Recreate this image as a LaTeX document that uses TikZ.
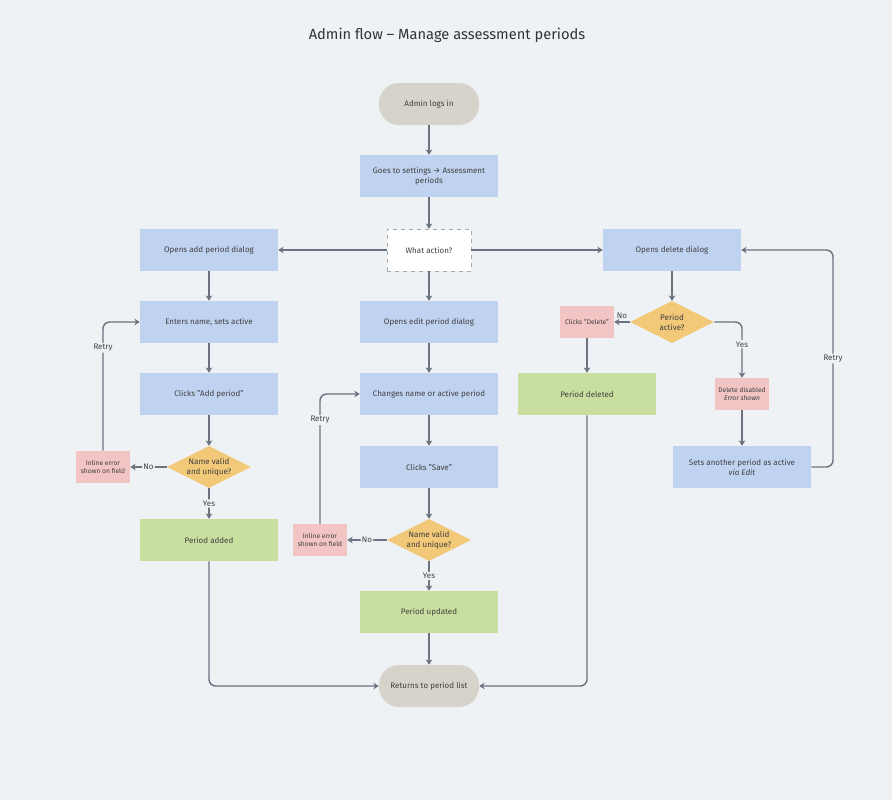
\documentclass[tikz,border=0pt]{standalone}
\usepackage{fontspec}
\setmainfont{Fira Sans}
\usetikzlibrary{shapes.geometric, arrows.meta}
\definecolor{bgc}{HTML}{EFF2F5}
\definecolor{linec}{HTML}{6B7380}
\definecolor{bluec}{HTML}{BFD3F0}
\definecolor{greenc}{HTML}{C9DF9F}
\definecolor{pinkc}{HTML}{F2C4C4}
\definecolor{yellowc}{HTML}{F2C879}
\definecolor{grayc}{HTML}{D6D3CA}
\tikzstyle{base} = [font=\fontsize{6}{7.5}\selectfont, text=black!75, align=center, inner sep=1pt]
\tikzstyle{startstop} = [base, rectangle, rounded corners=15pt, minimum width=75pt, minimum height=31.5pt, fill=grayc]
\tikzstyle{process} = [base, rectangle, minimum width=103.5pt, minimum height=31.5pt, fill=bluec]
\tikzstyle{done} = [process, fill=greenc]
\tikzstyle{errbox} = [base, rectangle, minimum width=40.5pt, minimum height=24pt, fill=pinkc, font=\fontsize{5}{6.5}\selectfont]
\tikzstyle{decision} = [base, diamond, aspect=2, minimum width=63pt, minimum height=31.5pt, inner sep=0pt, fill=yellowc]
\tikzstyle{choice} = [base, rectangle, minimum width=63pt, minimum height=31.5pt, fill=white, draw=linec!60, dashed]
\tikzstyle{arrow} = [draw=linec, line width=1.1pt, -{Stealth[length=4pt,width=5pt]}, rounded corners=5pt]
\tikzstyle{lbl} = [base, fill=bgc, font=\fontsize{6}{7}\selectfont]
\begin{document}
\begin{tikzpicture}[x=0.75pt, y=-0.75pt]
            \fill [bgc] (0,0) rectangle (892,800);
            \node [font=\fontsize{11}{13}\selectfont, text=black!80] at (447,35) (title) {Admin flow – Manage assessment periods};
            % main column
            \node [startstop] at (429,104) (start) {Admin logs in};
            \node [process] at (429,176) (settings) {Goes to settings → Assessment\\periods};
            \node [choice] at (429,250) (action) {What action?};
            % add branch
            \node [process] at (209,250) (adddlg) {Opens add period dialog};
            \node [process] at (209,322) (enter) {Enters name, sets active};
            \node [process] at (209,394) (clickadd) {Clicks "Add period"};
            \node [decision] at (209,467) (valid1) {Name valid\\and unique?};
            \node [errbox] at (103,467) (err1) {Inline error\\shown on field};
            \node [done] at (209,540) (added) {Period added};
            % edit branch
            \node [process] at (429,322) (editdlg) {Opens edit period dialog};
            \node [process] at (429,394) (change) {Changes name or active period};
            \node [process] at (429,467) (save) {Clicks "Save"};
            \node [decision] at (429,540) (valid2) {Name valid\\and unique?};
            \node [errbox] at (320,540) (err2) {Inline error\\shown on field};
            \node [done] at (429,612) (updated) {Period updated};
            \node [startstop] at (429,686) (stop) {Returns to period list};
            % delete branch
            \node [process] at (672,250) (deldlg) {Opens delete dialog};
            \node [decision] at (672,322) (active) {Period\\active?};
            \node [errbox] at (587,322) (clickdel) {Clicks "Delete"};
            \node [done] at (587,394) (deleted) {Period deleted};
            \node [errbox] at (742,394) (disabled) {Delete disabled\\\textit{Error shown}};
            \node [process] at (742,467) (setactive) {Sets another period as active\\\textit{via Edit}};
            \draw [arrow] (start) -- (settings);
            \draw [arrow] (settings) -- (action);
            \draw [arrow] (action) -- (adddlg);
            \draw [arrow] (action) -- (editdlg);
            \draw [arrow] (action) -- (deldlg);
            \draw [arrow] (adddlg) -- (enter);
            \draw [arrow] (enter) -- (clickadd);
            \draw [arrow] (clickadd) -- (valid1);
            \draw [arrow] (valid1) -- node[lbl] {No} (err1);
            \draw [arrow] (valid1) -- node[lbl] {Yes} (added);
            \draw [arrow] (err1) |- node[lbl, pos=0.4] {Retry} (enter);
            \draw [arrow] (editdlg) -- (change);
            \draw [arrow] (change) -- (save);
            \draw [arrow] (save) -- (valid2);
            \draw [arrow] (valid2) -- node[lbl] {No} (err2);
            \draw [arrow] (valid2) -- node[lbl] {Yes} (updated);
            \draw [arrow] (err2) |- node[lbl, pos=0.4] {Retry} (change);
            \draw [arrow] (updated) -- (stop);
            \draw [arrow] (added) |- (stop);
            \draw [arrow] (deleted) |- (stop);
            \draw [arrow] (deldlg) -- (active);
            \draw [arrow] (active) -- node[lbl, above=1pt, fill=none] {No} (clickdel);
            \draw [arrow] (clickdel) -- (deleted);
            \draw [arrow] (active) -| node[lbl, pos=0.7] {Yes} (disabled);
            \draw [arrow] (disabled) -- (setactive);
            \draw [arrow] (setactive.east) -- (833,467) |- node[lbl, pos=0.25] {Retry} (deldlg.east);
\end{tikzpicture}
\end{document}
